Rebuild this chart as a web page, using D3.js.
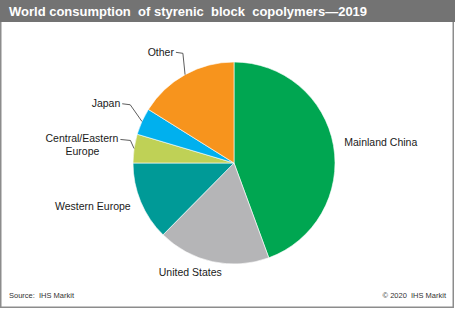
<!DOCTYPE html>
<html>
<head>
  <script type="text/javascript" src="https://cdn.jsdelivr.net/npm/d3@7"></script>
  <style type="text/css">
  html, body {
    margin: 0px;
    overflow: hidden;
    background: #fff;
  }
  text {
    font-family: "Liberation Sans", Arial, sans-serif;
  }
  </style>
</head>
<body>
<script>
"use strict";

// Data (share of world consumption, %)
const REGIONS = ["Mainland China", "United States", "Western Europe", "Central/Eastern Europe", "Japan", "Other"];
const SHARES = [44.4, 18.0, 12.6, 4.6, 4.3, 16.1];
const COLORS = ["#00a651", "#b5b5b7", "#009a97", "#bfd156", "#00b0ee", "#f7941d"];
const TITLE = "World consumption  of styrenic  block  copolymers\u20142019";
const SOURCE = "Source:  IHS Markit";
const COPYRIGHT = "\u00a9 2020  IHS Markit";

// Dimensions
const WIDTH = 455;
const HEIGHT = 309;
const TITLE_HEIGHT = 22;
const CX = 234;
const CY = 163;
const RADIUS = 101;

// Label layout: leader = [angle shift, elbow radius, horizontal length]
const LABEL_LAYOUT = {
  "Mainland China": { r: 112, anchor: "start", dx: 0, dy: 3 },
  "United States": { r: 112, anchor: "middle", dx: -20, dy: 4 },
  "Western Europe": { r: 112, anchor: "end", dx: 0, dy: 4 },
  "Central/Eastern Europe": { lines: ["Central/Eastern", "Europe"], leader: [4, 106, 10], anchor: "end", dx: -2, dy: 3 },
  "Japan": { leader: [5, 119, 8], anchor: "end", dx: -2, dy: 3 },
  "Other": { leader: [4, 121, 7], anchor: "end", dx: -2, dy: 4 }
};

const DATA = REGIONS.map((name, i) => ({ name: name, value: SHARES[i], color: COLORS[i] }));

const svg = d3.select("body").append("svg")
  .attr("width", WIDTH)
  .attr("height", HEIGHT);

// Frame and title bar
svg.append("rect")
  .attr("x", 0.75).attr("y", 0.75)
  .attr("width", WIDTH - 2.5).attr("height", HEIGHT - 2.5)
  .attr("fill", "#fff")
  .attr("stroke", "#8c8c8c")
  .attr("stroke-width", 1.5);

svg.append("rect")
  .attr("x", 0).attr("y", 0)
  .attr("width", WIDTH).attr("height", TITLE_HEIGHT)
  .attr("fill", "#737373");

svg.append("text")
  .attr("x", 9).attr("y", 16)
  .attr("fill", "#fff")
  .attr("font-size", 13)
  .attr("font-weight", "bold")
  .style("white-space", "pre")
  .text(TITLE);

// Pie
const pie = d3.pie().sort(null).value(d => d.value);
const arc = d3.arc().innerRadius(0).outerRadius(RADIUS);
const arcs = pie(DATA);

const G = svg.append("g").attr("transform", `translate(${CX},${CY})`);

G.selectAll("path")
  .data(arcs)
  .join("path")
  .attr("d", arc)
  .attr("fill", d => d.data.color)
  .attr("stroke", "#fff")
  .attr("stroke-width", 0.6);

function polar(angle, r) {
  return [r * Math.sin(angle), -r * Math.cos(angle)];
}
const deg = Math.PI / 180;

// Labels and leader lines
arcs.forEach(d => {
  const lay = LABEL_LAYOUT[d.data.name];
  const mid = (d.startAngle + d.endAngle) / 2;
  let tx, ty;
  if (lay.leader) {
    const p0 = polar(mid, RADIUS);
    const p1 = polar(mid + lay.leader[0] * deg, lay.leader[1]);
    const p2 = [p1[0] - lay.leader[2], p1[1] - 1];
    G.append("polyline")
      .attr("points", [p0, p1, p2].map(p => p.join(",")).join(" "))
      .attr("fill", "none")
      .attr("stroke", "#333")
      .attr("stroke-width", 0.8);
    tx = p2[0] + lay.dx;
    ty = p2[1] + lay.dy;
  } else {
    const p = polar(mid, lay.r);
    tx = p[0] + lay.dx;
    ty = p[1] + lay.dy;
  }
  const lines = lay.lines || [d.data.name];
  const t = G.append("text")
    .attr("x", tx).attr("y", ty)
    .attr("font-size", 10.5)
    .attr("fill", "#1a1a1a")
    .attr("text-anchor", lay.anchor);
  lines.forEach((line, i) => {
    t.append("tspan")
      .attr("x", i === 0 ? tx : tx - 36)
      .attr("text-anchor", i === 0 ? lay.anchor : "middle")
      .attr("dy", i === 0 ? 0 : 13)
      .text(line);
  });
});

// Footer
svg.append("text")
  .attr("x", 9).attr("y", 298)
  .attr("font-size", 7.5)
  .attr("fill", "#333")
  .style("white-space", "pre")
  .text(SOURCE);

svg.append("text")
  .attr("x", 446).attr("y", 298)
  .attr("font-size", 7.5)
  .attr("fill", "#333")
  .attr("text-anchor", "end")
  .style("white-space", "pre")
  .text(COPYRIGHT);
</script>
</body>
</html>
